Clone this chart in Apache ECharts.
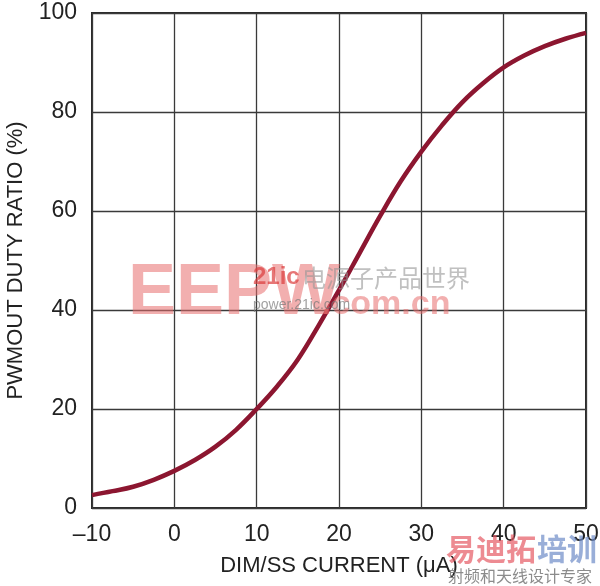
<!DOCTYPE html>
<html>
<head>
<meta charset="utf-8">
<script src="https://cdn.jsdelivr.net/npm/echarts@6/dist/echarts.min.js"></script>
<style>
html,body{margin:0;padding:0;background:#fff;}
#chart{width:600px;height:586px;}
</style>
</head>
<body>
<div id="chart"></div>
<script>
var currentUA = [-10, -7.5, -5, -2.5, 0, 2.5, 5, 7.5, 10, 12.5, 15, 17.5, 20, 22.5, 25, 27.5, 30, 32.5, 35, 37.5, 40, 42.5, 45, 47.5, 50];
var dutyRatio = [2.6, 3.4, 4.3, 5.7, 7.5, 9.7, 12.4, 15.8, 20, 24.6, 30, 36.8, 44, 51.5, 59, 66, 72, 77.3, 82, 85.8, 89, 91.4, 93.3, 94.8, 96];
var xTicks = [-10, 0, 10, 20, 30, 40, 50];
var yTicks = [0, 20, 40, 60, 80, 100];

var chart = echarts.init(document.getElementById('chart'));
var fontFam = '"Liberation Sans", Arial, sans-serif';
var option = {
  animation: false,
  backgroundColor: '#ffffff',
  grid: {
    left: 92, right: 14, top: 13, bottom: 78,
    containLabel: false, outerBoundsMode: 'none',
    show: true, borderColor: '#2a2a2a', borderWidth: 2, backgroundColor: 'transparent'
  },
  xAxis: {
    type: 'value', min: xTicks[0], max: xTicks[xTicks.length - 1], interval: 10,
    name: 'DIM/SS CURRENT (\u03bcA)', nameLocation: 'middle', nameGap: 47,
    nameTextStyle: { fontSize: 22, color: '#222', fontFamily: fontFam },
    axisLine: { show: false },
    axisTick: { show: false },
    axisLabel: {
      fontSize: 23, color: '#222', fontFamily: fontFam, margin: 15,
      formatter: function (v) { return v < 0 ? '\u2013' + Math.abs(v) : String(v); }
    },
    splitLine: { show: true, lineStyle: { color: '#3a3a3a', width: 1.3 } }
  },
  yAxis: {
    type: 'value', min: yTicks[0], max: yTicks[yTicks.length - 1], interval: 20,
    name: 'PWMOUT DUTY RATIO (%)', nameLocation: 'middle', nameGap: 65,
    nameTextStyle: { fontSize: 22, color: '#222', fontFamily: fontFam },
    axisLine: { show: false },
    axisTick: { show: false },
    axisLabel: { fontSize: 23, color: '#222', fontFamily: fontFam, margin: 15 },
    splitLine: { show: true, lineStyle: { color: '#3a3a3a', width: 1.3 } }
  },
  series: [{
    type: 'line',
    data: currentUA.map(function (x, i) { return [x, dutyRatio[i]]; }),
    smooth: 0.4,
    symbol: 'none',
    lineStyle: { color: '#8c1630', width: 4.5 },
    z: 3
  }],
  graphic: [
    { type: 'text', left: 128, top: 258, z: 100, style: { text: 'EEPW', font: 'bold 72px "Liberation Sans", Arial', fill: 'rgba(232,110,110,0.55)' } },
    { type: 'text', left: 253, top: 265, z: 101, style: { text: '21ic', font: 'bold 24px "Liberation Sans", Arial', fill: 'rgba(220,60,60,0.7)' } },
    { type: 'text', left: 302, top: 266, z: 101, style: { text: '\u7535\u6e90\u5b50\u4ea7\u54c1\u4e16\u754c', font: '24px "Noto Sans CJK SC"', fill: 'rgba(150,150,150,0.6)' } },
    { type: 'text', left: 253, top: 298, z: 101, style: { text: 'power.21ic.com', font: '14px "Liberation Sans", Arial', fill: 'rgba(120,120,120,0.7)' } },
    { type: 'text', left: 322, top: 288, z: 100, style: { text: '.com.cn', font: 'bold 34px "Liberation Sans", Arial', fill: 'rgba(232,110,110,0.55)' } },
    { type: 'text', left: 446, top: 534, z: 100, style: { text: '\u6613\u8fea\u62d3', font: 'bold 30px "Noto Sans CJK SC"', fill: 'rgba(230,90,100,0.7)' } },
    { type: 'text', left: 537, top: 534, z: 100, style: { text: '\u57f9\u8bad', font: 'bold 30px "Noto Sans CJK SC"', fill: 'rgba(110,140,200,0.7)' } },
    { type: 'text', left: 448, top: 568, z: 100, style: { text: '\u5c04\u9891\u548c\u5929\u7ebf\u8bbe\u8ba1\u4e13\u5bb6', font: '16px "Noto Sans CJK SC"', fill: 'rgba(110,110,110,0.8)' } }
  ]
};
chart.setOption(option);
</script>
</body>
</html>
